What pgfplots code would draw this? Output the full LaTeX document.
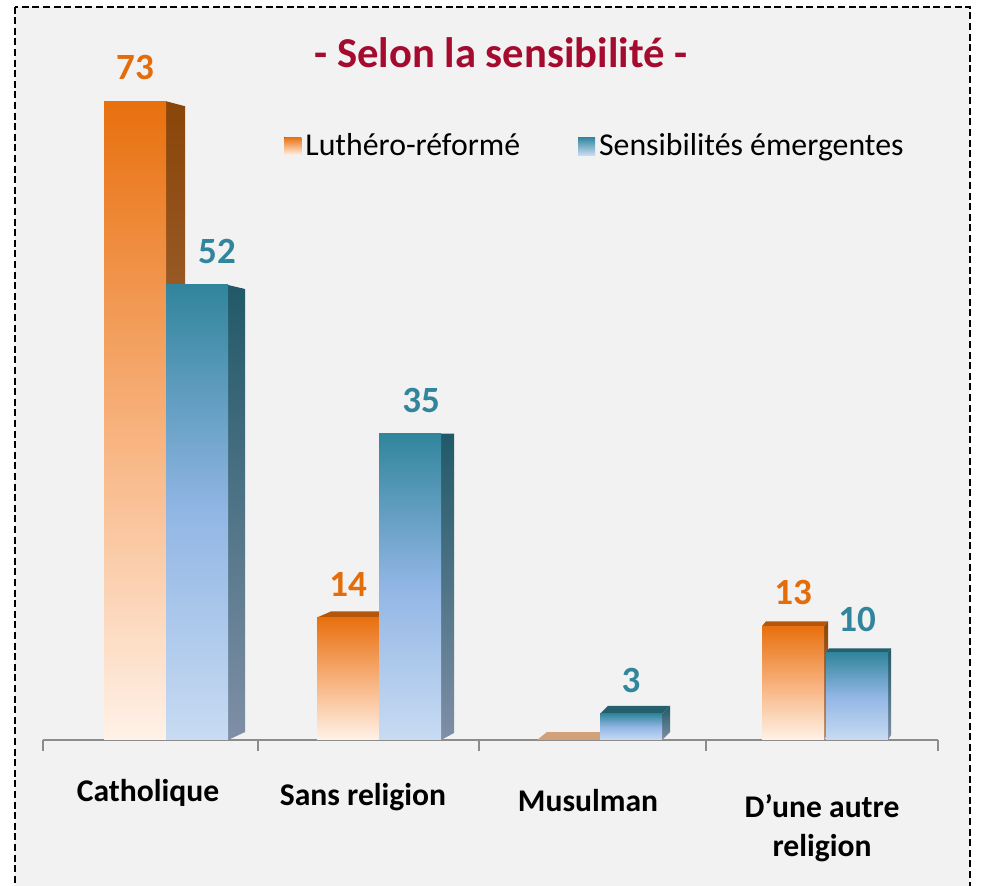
\documentclass[border=0pt]{standalone}
\usepackage{fontspec}
\setmainfont{Carlito}
\usepackage{pgfplots}
\pgfplotsset{compat=1.18}
\definecolor{bg}{HTML}{F2F2F2}
\definecolor{oTop}{HTML}{E8700E}
\definecolor{oMid}{HTML}{F7B07A}
\definecolor{oBot}{HTML}{FFF2E8}
\definecolor{bTop}{HTML}{31859C}
\definecolor{bMid}{HTML}{92B6E5}
\definecolor{bBot}{HTML}{C8DBF2}
\definecolor{osTop}{HTML}{8A4508}
\definecolor{osBot}{HTML}{B8896A}
\definecolor{bsTop}{HTML}{215968}
\definecolor{bsBot}{HTML}{7F8FA6}
\definecolor{oTopFace}{HTML}{B5560A}
\definecolor{bTopFace}{HTML}{245F6E}
\definecolor{oFlat}{HTML}{D2A079}
\definecolor{oLbl}{HTML}{E46C0A}
\definecolor{bLbl}{HTML}{31859C}
\definecolor{titlered}{HTML}{A50B2E}
\definecolor{axgray}{HTML}{8C8C8C}
\pgfplotsset{
  obar/.style={ybar, bar width=31pt, bar shift=0pt, draw=none, top color=oTop, bottom color=oBot, middle color=oMid,
    legend image code/.code={\fill[top color=oTop, bottom color=oBot] (0pt,-4.5pt) rectangle (8.5pt,4.5pt);}},
  bbar/.style={ybar, bar width=31pt, bar shift=0pt, draw=none, top color=bTop, bottom color=bBot, middle color=bMid,
    legend image code/.code={\fill[top color=bTop, bottom color=bBot] (0pt,-4.5pt) rectangle (8.5pt,4.5pt);}},
  oside/.style={forget plot, draw=none, top color=osTop, bottom color=osBot},
  bside/.style={forget plot, draw=none, top color=bsTop, bottom color=bsBot},
}
\begin{document}
\begin{tikzpicture}
\useasboundingbox (0,0) rectangle (490.5pt,-443pt);
\fill[white] (0,0) rectangle (490.5pt,-443pt);
\filldraw[fill=bg, draw=black, line width=1pt, dash pattern=on 3.5pt off 1.8pt] (7.5pt,-3.3pt) rectangle (485pt,-470pt);
\begin{axis}[
  at={(21.5pt,-370pt)}, anchor=south west,
  x=0.5pt, y=4.375pt,
  xmin=43, xmax=938, ymin=0, ymax=84,
  clip=false,
  hide y axis,
  axis x line*=bottom,
  axis line style={draw=axgray, line width=0.9pt},
  tick align=outside,
  xtick={148,363,588,822},
  xticklabels={Catholique, {\rule{0pt}{13pt}Sans religion}, {\rule{0pt}{16pt}Musulman}, {\rule{0pt}{19pt}D’une autre\\religion}},
  major tick length=0pt,
  xticklabel style={font=\bfseries\fontsize{15.8}{19.5}\selectfont, align=center, anchor=north, yshift=-16pt, text=black},
  extra x ticks={43,258,479,706,938},
  extra x tick style={major tick length=5.5pt, tick align=outside, tick style={draw=axgray, line width=0.9pt}, xticklabel={}},
  legend columns=2,
  legend cell align=left,
  legend style={draw=none, fill=none, at={(0.2626,0.808)}, anchor=west, font=\fontsize{15.9}{19}\selectfont, /tikz/every even column/.append style={column sep=27pt}},
  /pgf/number format/assume math mode=true,
]
% orange sides / tops
\addplot[oside] coordinates {(166,0)(166,73)(185,72.43)(185,0.91)} --cycle;
\addplot[oside] coordinates {(379,0)(379,14)(393,14.69)(393,0.91)} --cycle;
\addplot[forget plot, draw=none, fill=oTopFace] coordinates {(317,14)(379,14)(393,14.69)(331,14.69)} --cycle;
\addplot[forget plot, draw=none, fill=oFlat] coordinates {(537,0)(599,0)(609,0.91)(547,0.91)} --cycle;
\addplot[oside] coordinates {(824,0)(824,13)(828,13.57)(828,0.69)} --cycle;
\addplot[forget plot, draw=none, fill=oTopFace] coordinates {(762,13)(824,13)(828,13.57)(766,13.57)} --cycle;
% orange fronts (Luthéro-réformé)
\addplot[obar] coordinates {(135,73)};
\addlegendentry{Luthéro-réformé}
\addplot[obar, forget plot] coordinates {(348,14)};
\addplot[obar, forget plot] coordinates {(793,13)};
% blue sides / tops
\addplot[bside] coordinates {(228,0)(228,52)(245,51.54)(245,0.91)} --cycle;
\addplot[bside] coordinates {(441,0)(441,35)(454,35)(454,0.8)} --cycle;
\addplot[bside] coordinates {(662,0)(662,3)(670,3.91)(670,0.91)} --cycle;
\addplot[forget plot, draw=none, fill=bTopFace] coordinates {(600,3)(662,3)(670,3.91)(608,3.91)} --cycle;
\addplot[bside] coordinates {(888,0)(888,10)(891,10.46)(891,0.57)} --cycle;
\addplot[forget plot, draw=none, fill=bTopFace] coordinates {(826,10)(888,10)(891,10.46)(829,10.46)} --cycle;
% blue fronts (Sensibilités émergentes)
\addplot[bbar] coordinates {(197,52)};
\addlegendentry{Sensibilités émergentes}
\addplot[bbar, forget plot] coordinates {(410,35)};
\addplot[bbar, forget plot] coordinates {(631,3)};
\addplot[bbar, forget plot] coordinates {(857,10)};
% value labels
\addplot[forget plot, draw=none, nodes near coords, point meta=y,
  every node near coord/.append style={anchor=south, yshift=7pt, text=oLbl, font=\bfseries\fontsize{18.5}{22}\selectfont}]
  coordinates {(135,73) (348,14) (793,13)};
\addplot[forget plot, draw=none, nodes near coords, point meta=y,
  every node near coord/.append style={anchor=south, yshift=7pt, text=bLbl, font=\bfseries\fontsize{18.5}{22}\selectfont}]
  coordinates {(217,52) (421,35) (631,3) (857,10)};
\end{axis}
\node[anchor=base, font=\bfseries\fontsize{21.3}{25}\selectfont, text=titlered] at (250.5pt,-34pt) {- Selon la sensibilité -};
\end{tikzpicture}
\end{document}
